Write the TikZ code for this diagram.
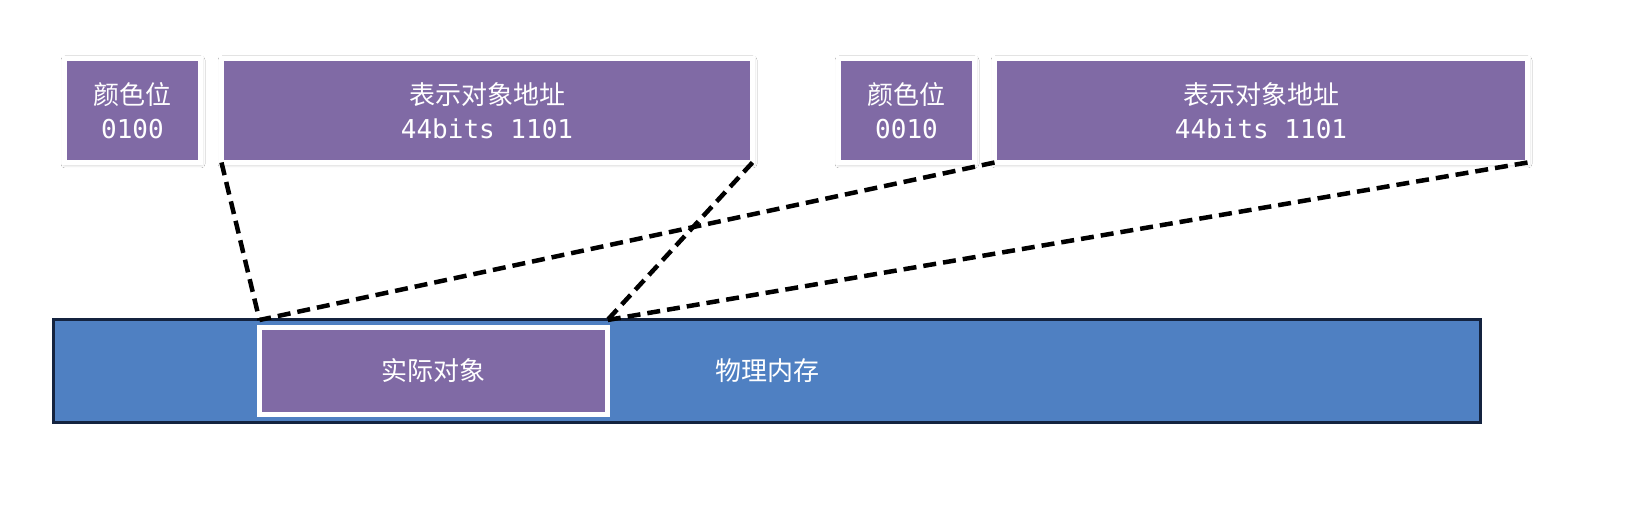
\documentclass[tikz,border=0pt]{standalone}
\usepackage{fontspec}
\setmainfont{Noto Sans CJK SC}
\newfontfamily\monof{DejaVu Sans Mono}
\usetikzlibrary{shadows.blur}
\definecolor{boxpurple}{HTML}{806AA5}
\definecolor{barblue}{HTML}{4F80C2}
\definecolor{bardark}{HTML}{14233F}
\tikzset{
  field/.style={rectangle, fill=boxpurple, draw=white, line width=5pt, inner sep=0pt, outer sep=0pt,
    text=white, align=center, font=\fontsize{26}{34}\selectfont,
    blur shadow={shadow xshift=0.5pt, shadow yshift=-1.5pt, shadow blur radius=4pt, shadow opacity=30, shadow blur steps=8}},
  membar/.style={rectangle, fill=barblue, draw=bardark, line width=3pt, inner sep=0pt, outer sep=0pt},
  objbox/.style={rectangle, fill=boxpurple, draw=white, line width=5pt, inner sep=0pt, outer sep=0pt,
    text=white, font=\fontsize{26}{34}\selectfont},
  plain/.style={text=white, font=\fontsize{26}{34}\selectfont},
  link/.style={line width=4.5pt, dash pattern=on 13pt off 7pt, black}
}
\begin{document}
\begin{tikzpicture}[x=1pt,y=-1pt]
\useasboundingbox[fill=white] (0,0) rectangle (1641,510);
% top fields
\node[field, minimum width=136pt, minimum height=104pt] (c1) at (132.5,110.5) {颜色位\\{\monof 0100}};
\node[field, minimum width=531pt, minimum height=104pt] (a1) at (487,110.5) {表示对象地址\\{\monof 44bits 1101}};
\node[field, minimum width=136pt, minimum height=104pt] (c2) at (906.5,110.5) {颜色位\\{\monof 0010}};
\node[field, minimum width=533pt, minimum height=104pt] (a2) at (1261,110.5) {表示对象地址\\{\monof 44bits 1101}};
% memory bar
\node[membar, minimum width=1427pt, minimum height=102pt] (mem) at (766.5,371) {};
\node[objbox, minimum width=348pt, minimum height=87pt] (obj) at (433.5,371) {实际对象};
\node[plain] (memlabel) at (767,371) {物理内存};
% connector ends
\coordinate (ol) at (obj.west |- mem.north);
\coordinate (or) at (obj.east |- mem.north);
\draw[link] (a1.south west) -- (ol);
\draw[link] (a1.south east) -- (or);
\draw[link] (a2.south west) -- (ol);
\draw[link] (a2.south east) -- (or);
\end{tikzpicture}
\end{document}
